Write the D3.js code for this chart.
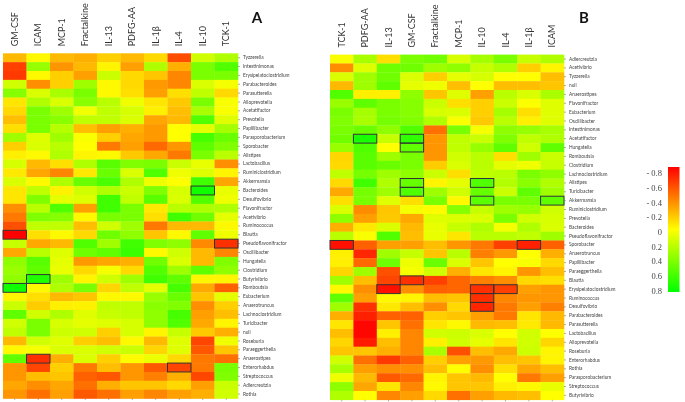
<!DOCTYPE html>
<html>
<head>
<meta charset="utf-8">
<script src="https://cdnjs.cloudflare.com/ajax/libs/d3/7.8.5/d3.min.js"></script>
<style>
  html, body { margin: 0; padding: 0; background: #fff; }
  svg { display: block; filter: blur(0.35px); }
  text { font-family: Lato, "Open Sans", sans-serif; }
  .rows text { font-size: 4.8px; fill: #444; }
  .rows line { stroke: #777; stroke-width: 0.6; }
  .cols text { font-size: 9px; fill: #333; }
  .legend text { font-size: 8.5px; fill: #444; font-family: "Liberation Serif", serif; }
</style>
</head>
<body>
<svg id="chart" width="685" height="402"></svg>
<script>
/* globals d3 */
const colsA = ['GM-CSF', 'ICAM', 'MCP-1', 'Fractalkine', 'IL-13', 'PDFG-AA', 'IL-1β', 'IL-4', 'IL-10', 'TCK-1'];
const rowsA = ['Tyzzerella', 'Intestinimonas', 'Erysipelatoclostridium', 'Parabacteroides', 'Parasutterella', 'Alloprevotella', 'Acetatifactor', 'Prevotella', 'Papillibacter', 'Parasporobacterium', 'Sporobacter', 'Alistipes', 'Lactobacillus', 'Ruminiclostridium', 'Akkermansia', 'Bacteroides', 'Desulfovibrio', 'Flavonifractor', 'Acetivibrio', 'Ruminococcus', 'Blautia', 'Pseudoflavonifractor', 'Oscillibacter', 'Hungatella', 'Clostridium', 'Butyrivibrio', 'Romboutsia', 'Eubacterium', 'Anaerotruncus', 'Lachnoclostridium', 'Turicibacter', 'null', 'Roseburia', 'Paraeggerthella', 'Anaerostipes', 'Enterorhabdus', 'Streptococcus', 'Adlercreutzia', 'Rothia'];
// correlations, one line per row
const valuesA = [
  [-.22, -.02, -.22, -.25, -.15, -.22, -.12, -.56, .15, .25],
  [-.6, .33, -.33, -.22, -.03, -.3, .25, -.25, .42, .55],
  [-.62, -.02, -.15, -.3, .17, -.12, -.18, -.38, .42, .42],
  [.15, -.35, -.15, .3, -.02, -.12, -.32, -.38, .12, .03],
  [.38, .12, .27, .42, -.02, -.1, -.3, -.1, .2, -.12],
  [-.08, .25, .12, .37, .22, .05, -.08, -.17, .42, .02],
  [-.12, .42, .3, .04, .2, .13, -.05, -.2, .27, .02],
  [-.2, .42, .37, .2, .2, .12, -.28, -.22, .55, .1],
  [-.1, .42, .23, -.2, -.3, -.25, -.32, 0, .08, .28],
  [.3, .1, .3, .02, -.15, -.28, -.32, 0, .58, .47],
  [-.15, .12, .22, 0, -.42, -.3, -.47, -.33, .5, .4],
  [-.05, -.02, .25, -.03, -.02, -.17, -.27, -.42, .42, .22],
  [.13, -.22, -.1, .25, .52, .4, .42, .17, .07, -.35],
  [-.07, -.28, -.38, -.07, .47, .12, .55, .05, .1, -.03],
  [.12, -.02, .25, .47, .57, .25, .05, 0, .6, -.28],
  [-.08, .2, -.04, .15, .25, .17, .4, .13, .75, .07],
  [-.08, .4, .08, .1, .6, .2, .52, .12, .55, .05],
  [-.35, .22, .55, -.3, .6, .42, -.07, .22, .25, .25],
  [-.42, .4, .38, -.02, .42, .42, -.1, .6, .45, .08],
  [-.55, .2, .2, -.2, .15, .3, -.42, -.22, -.22, -.02],
  [-.8, -.1, -.02, -.12, .45, .35, -.18, -.02, .5, .05],
  [.18, -.27, -.22, .55, .3, .6, .4, .35, -.37, -.65],
  [-.27, .22, .1, .45, .5, .62, -.02, .15, -.22, -.38],
  [.35, .52, .08, -.32, -.28, -.25, .45, .12, -.22, .4],
  [.32, .5, .07, -.12, .03, -.12, .55, .3, .5, .35],
  [.35, .7, .3, -.03, .15, .3, .6, .5, -.03, -.03],
  [.75, -.02, .25, .42, -.13, .2, .08, .58, -.27, -.5],
  [-.03, -.1, -.22, -.18, -.02, -.02, .32, .47, -.18, .08],
  [.17, -.16, -.05, -.04, .2, .2, .37, .4, -.35, -.15],
  [.5, .15, .25, .1, .18, .2, .35, .58, -.3, -.2],
  [.15, .42, .13, .08, .1, .13, .35, .55, -.27, -.03],
  [.2, .42, .16, .15, -.15, .13, -.03, .18, -.17, -.25],
  [-.22, .15, .1, -.15, -.2, -.02, -.22, .1, -.58, .05],
  [-.02, .03, .12, .12, .15, .17, -.13, .1, -.53, -.18],
  [.5, -.65, -.25, .12, -.15, -.01, .06, -.12, -.42, -.45],
  [-.33, -.58, -.15, -.42, -.2, -.33, -.52, -.58, -.42, .42],
  [-.33, -.2, -.18, -.5, -.53, -.33, -.4, -.25, -.58, .4],
  [-.28, -.35, -.28, -.45, -.25, -.18, -.18, -.12, -.3, .17],
  [-.33, -.45, -.3, -.52, -.45, -.3, -.38, -.3, -.25, .15],
];
// boxed cells, [row, column]
const boxesA = [['Bacteroides', 'IL-10'], ['Blautia', 'GM-CSF'], ['Pseudoflavonifractor', 'TCK-1'], ['Butyrivibrio', 'ICAM'], ['Romboutsia', 'GM-CSF'], ['Anaerostipes', 'ICAM'], ['Enterorhabdus', 'IL-4']];

const colsB = ['TCK-1', 'PDFG-AA', 'IL-13', 'GM-CSF', 'Fractalkine', 'MCP-1', 'IL-10', 'IL-4', 'IL-1β', 'ICAM'];
const rowsB = ['Adlercreutzia', 'Acetivibrio', 'Tyzzerella', 'null', 'Anaerostipes', 'Flavonifractor', 'Eubacterium', 'Oscillibacter', 'Intestinimonas', 'Acetatifactor', 'Hungatella', 'Romboutsia', 'Clostridium', 'Lachnoclostridium', 'Alistipes', 'Turicibacter', 'Akkermansia', 'Ruminiclostridium', 'Prevotella', 'Bacteroides', 'Pseudoflavonifractor', 'Sporobacter', 'Anaerotruncus', 'Papillibacter', 'Paraeggerthella', 'Blautia', 'Erysipelatoclostridium', 'Ruminococcus', 'Desulfovibrio', 'Parabacteroides', 'Parasutterella', 'Lactobacillus', 'Alloprevotella', 'Roseburia', 'Enterorhabdus', 'Rothia', 'Parasporobacterium', 'Streptococcus', 'Butyrivibrio'];
const valuesB = [
  [.02, .27, -.1, .42, .45, .13, .28, .42, .18, .25],
  [-.35, .1, .45, .45, .3, .35, .18, .25, -.15, -.03],
  [.12, .3, .45, .12, -.15, .08, .13, 0, 0, -.2],
  [-.22, .3, .5, .08, .05, -.2, 0, -.2, -.2, -.18],
  [.55, -.05, -.05, .35, -.18, .1, -.3, .22, .12, .27],
  [.32, .5, .42, .38, .17, -.1, -.15, .17, .01, .1],
  [.42, .28, .42, .38, .13, .12, -.15, .28, -.1, .1],
  [.4, .27, .43, .4, .25, .02, -.17, .22, -.05, .1],
  [.42, .47, .35, .55, -.45, .42, .03, .35, .33, .27],
  [.45, .72, .18, .65, -.33, .2, .17, .4, .2, .25],
  [.32, .55, 0, .5, -.33, .2, .33, .5, .15, .5],
  [-.13, .52, .3, .42, -.33, .15, .22, -.1, .3, .17],
  [-.12, .52, .47, .42, -.16, .12, .22, .08, .05, .18],
  [.2, .43, .3, .35, .17, -.1, .2, .22, .42, .35],
  [-.12, .6, .25, .48, -.03, .08, .55, .24, .37, .25],
  [-.27, .43, .3, .55, .3, .15, .48, .17, .5, .3],
  [-.1, .42, .1, -.1, .42, -.02, .52, .42, .42, .5],
  [.12, -.36, -.18, .03, -.01, .38, .18, .3, .33, .15],
  [.35, -.3, -.17, -.27, .1, .12, .12, .42, .15, .13],
  [-.25, -.07, .12, -.22, .07, .18, .25, .03, .25, .12],
  [.22, .02, .55, -.2, .07, -.08, .22, .22, .2, .3],
  [-.75, -.5, -.3, -.3, -.2, -.33, -.42, -.6, -.7, -.5],
  [-.05, -.68, .3, .18, -.18, .22, -.4, -.32, 0, -.25],
  [-.05, -.47, .45, .05, .47, .12, -.18, 0, .02, -.12],
  [-.13, .3, -.55, .03, .15, -.25, -.08, -.03, -.33, -.2],
  [.3, -.2, -.58, -.65, -.6, -.48, -.4, -.35, -.12, -.1],
  [-.02, -.35, -.75, -.35, -.5, -.48, -.65, -.6, -.3, -.33],
  [.5, -.3, -.02, -.03, -.2, -.18, -.65, -.38, -.33, -.33],
  [.3, -.65, -.07, -.2, -.35, -.12, -.68, -.42, -.3, -.4],
  [-.25, -.7, -.5, -.5, -.15, -.18, -.3, -.42, -.08, -.22],
  [-.08, -.78, -.18, -.45, -.08, -.02, -.22, -.2, -.07, -.22],
  [-.2, -.78, -.05, -.38, .15, .16, .12, 0, .15, 0],
  [-.13, -.72, -.2, -.38, -.05, .15, .08, -.08, .15, -.13],
  [-.18, -.18, -.25, -.38, .27, -.55, -.2, -.27, .16, -.03],
  [.15, -.45, -.62, -.5, -.15, -.3, -.32, -.2, -.18, -.03],
  [.27, -.3, -.35, -.35, -.2, 0, -.35, -.1, -.28, -.2],
  [.05, -.22, -.52, -.47, -.03, -.18, -.22, 0, -.42, -.3],
  [.35, -.28, -.08, -.38, -.02, -.18, -.18, -.05, -.02, .07],
  [.25, 0, -.38, -.3, -.12, -.45, -.3, -.22, -.2, 0],
];
const boxesB = [['Acetatifactor', 'PDFG-AA'], ['Acetatifactor', 'GM-CSF'], ['Hungatella', 'GM-CSF'], ['Alistipes', 'GM-CSF'], ['Turicibacter', 'GM-CSF'], ['Alistipes', 'IL-10'], ['Akkermansia', 'IL-10'], ['Akkermansia', 'ICAM'], ['Sporobacter', 'TCK-1'], ['Sporobacter', 'IL-1β'], ['Blautia', 'GM-CSF'], ['Erysipelatoclostridium', 'IL-13'], ['Erysipelatoclostridium', 'IL-10'], ['Erysipelatoclostridium', 'IL-4'], ['Ruminococcus', 'IL-10'], ['Desulfovibrio', 'IL-10']];

const legendTicks = [-0.8, -0.6, -0.4, -0.2, 0, 0.2, 0.4, 0.6, 0.8];

// red through yellow to green
const color = d3.scaleLinear()
  .domain([-0.8, 0, 0.8])
  .range(['#ff0000', '#ffff00', '#00ff00'])
  .clamp(true);

const svg = d3.select('#chart');

function heatmap(panel) {
  const x = d3.scaleBand().domain(panel.cols).range([panel.x0, panel.x1]);
  const y = d3.scaleBand().domain(panel.rows).range([panel.y0, panel.y1]);
  const g = svg.append('g');

  // flatten the table for the join
  const cells = panel.rows.flatMap((row, i) => panel.cols.map((col, j) => ({ row, col, value: panel.values[i][j] })));

  g.append('g')
    .selectAll('rect')
    .data(cells)
    .enter()
    .append('rect')
    .attr('x', d => x(d.col))
    .attr('y', d => y(d.row))
    .attr('width', x.bandwidth() + 0.3)
    .attr('height', y.bandwidth() + 0.3)
    .attr('fill', d => color(d.value));

  g.append('g')
    .selectAll('rect')
    .data(panel.boxes)
    .enter()
    .append('rect')
    .attr('x', d => x(d[1]))
    .attr('y', d => y(d[0]))
    .attr('width', x.bandwidth())
    .attr('height', y.bandwidth())
    .attr('fill', 'none')
    .attr('stroke', '#333')
    .attr('stroke-width', 1);

  const rowAxis = g.append('g')
    .attr('class', 'rows')
    .attr('transform', `translate(${panel.x1} 0)`)
    .call(d3.axisRight(y).tickSize(2).tickPadding(3));
  rowAxis.select('.domain').remove();

  // only small tick marks under the columns
  const bottomAxis = g.append('g')
    .attr('class', 'rows')
    .attr('transform', `translate(0 ${panel.y1})`)
    .call(d3.axisBottom(x).tickSize(1.5).tickFormat(''));
  bottomAxis.select('.domain').remove();

  const colAxis = g.append('g')
    .attr('class', 'cols')
    .attr('transform', `translate(0 ${panel.y0})`)
    .call(d3.axisTop(x).tickSize(0).tickPadding(0));
  colAxis.select('.domain').remove();
  colAxis.selectAll('text')
    .attr('transform', 'translate(0 -7) rotate(-90)')
    .attr('text-anchor', 'start')
    .attr('x', 0)
    .attr('y', 0)
    .attr('dy', '0.35em');

  svg.append('text')
    .attr('x', panel.titleX)
    .attr('y', 23)
    .attr('text-anchor', 'middle')
    .attr('font-size', 15)
    .attr('font-weight', 700)
    .attr('fill', '#111')
    .text(panel.title);
}

heatmap({ cols: colsA, rows: rowsA, values: valuesA, boxes: boxesA, x0: 3, x1: 238, y0: 53.3, y1: 398.5, title: 'A', titleX: 257 });
heatmap({ cols: colsB, rows: rowsB, values: valuesB, boxes: boxesB, x0: 330, x1: 564, y0: 54.6, y1: 399.8, title: 'B', titleX: 584 });

// legend
const legendY = d3.scaleLinear().domain([-0.8, 0.8]).range([173, 290.5]);
const defs = svg.append('defs');
const gradient = defs.append('linearGradient')
  .attr('id', 'legend-gradient')
  .attr('x1', 0)
  .attr('x2', 0)
  .attr('y1', 0)
  .attr('y2', 1);
gradient.selectAll('stop')
  .data(color.domain())
  .enter()
  .append('stop')
  .attr('offset', (d, i) => i / 2)
  .attr('stop-color', d => color(d));

svg.append('rect')
  .attr('x', 668)
  .attr('y', legendY(-0.8) - 6)
  .attr('width', 11.5)
  .attr('height', legendY(0.8) - legendY(-0.8) + 7.5)
  .attr('fill', 'url(#legend-gradient)');

const legendAxis = svg.append('g')
  .attr('class', 'legend')
  .attr('transform', 'translate(662 0)')
  .call(d3.axisLeft(legendY).tickValues(legendTicks).tickSize(0).tickPadding(0)
    .tickFormat(d => (d < 0 ? `- ${-d}` : `${d}`)));
legendAxis.select('.domain').remove();
</script>
</body>
</html>
